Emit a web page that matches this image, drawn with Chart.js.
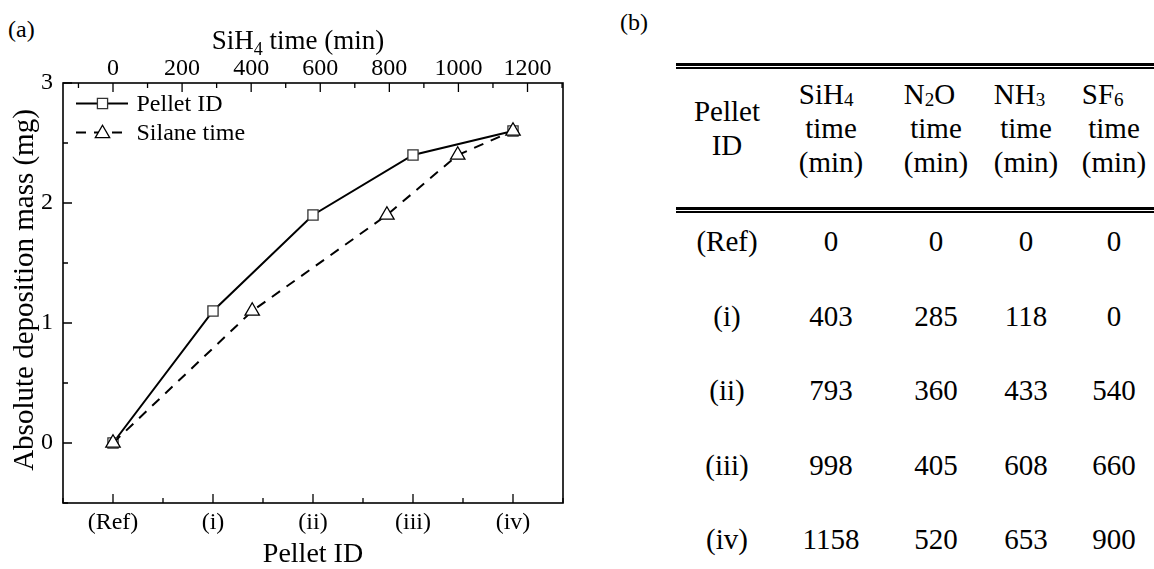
<!DOCTYPE html>
<html>
<head>
<meta charset="utf-8">
<title>Deposition mass vs pellet ID</title>
<script src="https://cdn.jsdelivr.net/npm/chart.js@4.4.0/dist/chart.umd.min.js"></script>
<style>
  html, body { margin: 0; padding: 0; background: #fff; width: 1154px; height: 569px; overflow: hidden; }
  body { position: relative; font-family: "Liberation Serif", "Times New Roman", serif; color: #000; }
  #plot { position: absolute; left: 0; top: 0; width: 600px; height: 569px; }
  .panel { position: absolute; font-size: 24px; line-height: 24px; }
  .rule { position: absolute; left: 676px; width: 478px; background: #000; }
  .cell { position: absolute; font-size: 29px; line-height: 34px; white-space: nowrap; transform: translateX(-50%); }
  .cell div { text-align: center; }
  .cell div.first { text-align: left; }
  sub { font-size: 0.66em; vertical-align: -0.1em; line-height: 0; }
</style>
</head>
<body>
<div class="panel" style="left:8px; top:17px;">(a)</div>
<div class="panel" style="left:620px; top:10px;">(b)</div>
<div id="plot"><canvas id="massChart"></canvas></div>
<div id="table"></div>

<script>
// datos
const pelletIds = ['(Ref)', '(i)', '(ii)', '(iii)', '(iv)'];
const massMg = [0, 1.1, 1.9, 2.4, 2.6];
const sih4Time = [0, 403, 793, 998, 1158];
const n2oTime = [0, 285, 360, 405, 520];
const nh3Time = [0, 118, 433, 608, 653];
const sf6Time = [0, 0, 540, 660, 900];
const massTicks = [0, 1, 2, 3];
const timeTicks = [0, 200, 400, 600, 800, 1000, 1200];
const gasNames = ['SiH<sub>4</sub>', 'N<sub>2</sub>O', 'NH<sub>3</sub>', 'SF<sub>6</sub>'];

const SERIF = "'Liberation Serif', 'Times New Roman', serif";
Chart.defaults.font.family = SERIF;
Chart.defaults.color = '#000';

// el eje superior se alinea: 0 min con (Ref) y el ultimo tiempo con (iv)
const minPerSlot = sih4Time[sih4Time.length - 1] / (pelletIds.length - 1);

function drawSquare(ctx, x, y, r) {
  const s = r * Math.SQRT1_2;
  ctx.beginPath();
  ctx.rect(x - s, y - s, 2 * s, 2 * s);
  ctx.fill(); ctx.stroke();
}
function drawTriangle(ctx, x, y, r) {
  ctx.beginPath();
  ctx.moveTo(x, y - r);
  ctx.lineTo(x + r * Math.sqrt(3) / 2, y + r / 2);
  ctx.lineTo(x - r * Math.sqrt(3) / 2, y + r / 2);
  ctx.closePath();
  ctx.fill(); ctx.stroke();
}

// marco, ticks hacia adentro, titulos y leyenda
const framePlugin = {
  id: 'frame',
  afterDraw(chart) {
    const { ctx, chartArea: a, scales } = chart;
    ctx.save();
    ctx.strokeStyle = '#000';
    ctx.lineWidth = 1.6;
    ctx.strokeRect(a.left, a.top, a.width, a.height);

    ctx.lineWidth = 1.3;
    ctx.beginPath();
    // eje y: cada 0.5
    for (let k = -1; k <= 6; k++) {
      const py = scales.y.getPixelForValue(k / 2);
      const len = k % 2 === 0 ? 9 : 5;
      ctx.moveTo(a.left, py); ctx.lineTo(a.left + len, py);
    }
    // eje x inferior: cada media categoria
    for (let k = -1; k <= 2 * pelletIds.length - 1; k++) {
      const px = scales.x.getPixelForValue(k / 2);
      const len = k % 2 === 0 ? 9 : 5;
      ctx.moveTo(px, a.bottom); ctx.lineTo(px, a.bottom - len);
    }
    // eje superior: cada 100 min
    for (let t = -100; t <= 1300; t += 100) {
      const px = scales.x2.getPixelForValue(t);
      if (px < a.left || px > a.right) continue;
      const len = t % 200 === 0 ? 9 : 5;
      ctx.moveTo(px, a.top); ctx.lineTo(px, a.top + len);
    }
    ctx.stroke();

    // titulos de ejes
    const cx = (a.left + a.right) / 2;
    ctx.fillStyle = '#000';
    ctx.textBaseline = 'alphabetic';
    ctx.textAlign = 'left';
    const big = '27px ' + SERIF, small = '18px ' + SERIF;
    ctx.font = big; const w1 = ctx.measureText('SiH').width, w3 = ctx.measureText(' time (min)').width;
    ctx.font = small; const w2 = ctx.measureText('4').width;
    let x0 = cx - 15 - (w1 + w2 + w3) / 2;
    ctx.font = big; ctx.fillText('SiH', x0, 49);
    ctx.font = small; ctx.fillText('4', x0 + w1, 55);
    ctx.font = big; ctx.fillText(' time (min)', x0 + w1 + w2, 49);

    ctx.font = '28px ' + SERIF;
    ctx.textAlign = 'center';
    ctx.fillText('Pellet ID', cx, 562);

    ctx.save();
    ctx.font = '29px ' + SERIF;
    ctx.translate(25, 290);
    ctx.rotate(-Math.PI / 2);
    ctx.textBaseline = 'middle';
    ctx.fillText('Absolute deposition mass (mg)', 0, 0);
    ctx.restore();

    // leyenda
    const ds = chart.data.datasets;
    const rows = [a.top + 20.5, a.top + 49.5];
    ctx.font = '24px ' + SERIF;
    ctx.textAlign = 'left';
    ctx.textBaseline = 'middle';
    rows.forEach((ry, i) => {
      const d = ds[i];
      ctx.strokeStyle = d.borderColor;
      ctx.lineWidth = d.borderWidth;
      ctx.setLineDash(d.borderDash || []);
      ctx.beginPath();
      ctx.moveTo(a.left + 13, ry); ctx.lineTo(a.left + 65, ry);
      ctx.stroke();
      ctx.setLineDash([]);
      ctx.fillStyle = '#fff';
      ctx.strokeStyle = d.pointBorderColor;
      ctx.lineWidth = d.pointBorderWidth;
      if (d.pointStyle === 'rect') drawSquare(ctx, a.left + 39.5, ry, d.pointRadius);
      else drawTriangle(ctx, a.left + 39.5, ry + 1, d.pointRadius);
      ctx.fillStyle = '#000';
      ctx.fillText(d.label, a.left + 73.5, ry + 1);
    });
    ctx.restore();
  }
};

const tickFont = { size: 24, family: SERIF };

new Chart(document.getElementById('massChart'), {
  type: 'line',
  data: {
    datasets: [
      {
        label: 'Pellet ID',
        data: pelletIds.map((id, i) => ({ x: i, y: massMg[i] })),
        xAxisID: 'x', yAxisID: 'y',
        borderColor: '#000', borderWidth: 2,
        pointStyle: 'rect', pointRadius: 7.2,
        pointBorderColor: '#333', pointBackgroundColor: '#fff', pointBorderWidth: 1.3,
        order: 2
      },
      {
        label: 'Silane time',
        data: sih4Time.map((t, i) => ({ x: t, y: massMg[i] })),
        xAxisID: 'x2', yAxisID: 'y',
        borderColor: '#000', borderWidth: 2, borderDash: [10, 8],
        pointStyle: 'triangle', pointRadius: 8.3,
        pointBorderColor: '#000', pointBackgroundColor: '#fff', pointBorderWidth: 1.3,
        order: 1
      }
    ]
  },
  options: {
    responsive: true,
    maintainAspectRatio: false,
    animation: false,
    layout: { padding: { left: 0, right: 37, top: 0, bottom: 0 } },
    plugins: { legend: { display: false }, tooltip: { enabled: false } },
    scales: {
      x: {
        type: 'linear', position: 'bottom',
        min: -0.5, max: pelletIds.length - 0.5,
        grid: { display: false, drawTicks: false }, border: { display: false },
        afterBuildTicks: s => { s.ticks = pelletIds.map((_, i) => ({ value: i })); },
        afterFit: s => { s.height = 66; },
        ticks: { font: tickFont, padding: 5, maxRotation: 0, autoSkip: false, callback: v => pelletIds[v] }
      },
      x2: {
        type: 'linear', position: 'top',
        min: -0.5 * minPerSlot, max: (pelletIds.length - 0.5) * minPerSlot,
        grid: { display: false, drawTicks: false }, border: { display: false },
        afterBuildTicks: s => { s.ticks = timeTicks.map(v => ({ value: v })); },
        afterFit: s => { s.height = 83; },
        ticks: { font: tickFont, padding: 0, maxRotation: 0, autoSkip: false, callback: v => String(v) }
      },
      y: {
        min: -0.5, max: 3,
        grid: { display: false, drawTicks: false }, border: { display: false },
        afterBuildTicks: s => { s.ticks = massTicks.map(v => ({ value: v })); },
        afterFit: s => { s.width = 63; },
        ticks: { font: tickFont, padding: 10, callback: v => String(v) }
      }
    }
  },
  plugins: [framePlugin]
});

// tabla (b)
const table = document.getElementById('table');
const colCenters = [727, 831, 936, 1026, 1114];
const rowCenters = [240.5, 316, 390, 465, 538.5];

function addCell(x, top, html) {
  const el = document.createElement('div');
  el.className = 'cell';
  el.style.left = x + 'px';
  el.style.top = top + 'px';
  el.innerHTML = html;
  table.appendChild(el);
}
function addRule(top, h) {
  const el = document.createElement('div');
  el.className = 'rule';
  el.style.top = top + 'px';
  el.style.height = h + 'px';
  table.appendChild(el);
}
addRule(62.5, 3); addRule(67, 1.5);
addRule(206.5, 3); addRule(211, 1.5);

addCell(colCenters[0], 128 - 34, '<div>Pellet</div><div>ID</div>');
gasNames.forEach((g, j) => {
  addCell(colCenters[j + 1], 128 - 51, `<div class="first">${g}</div><div>time</div><div>(min)</div>`);
});

const columns = [sih4Time, n2oTime, nh3Time, sf6Time];
pelletIds.forEach((id, i) => {
  const top = rowCenters[i] - 17;
  addCell(colCenters[0], top, id);
  columns.forEach((col, j) => addCell(colCenters[j + 1], top, String(col[i])));
});
</script>
</body>
</html>
